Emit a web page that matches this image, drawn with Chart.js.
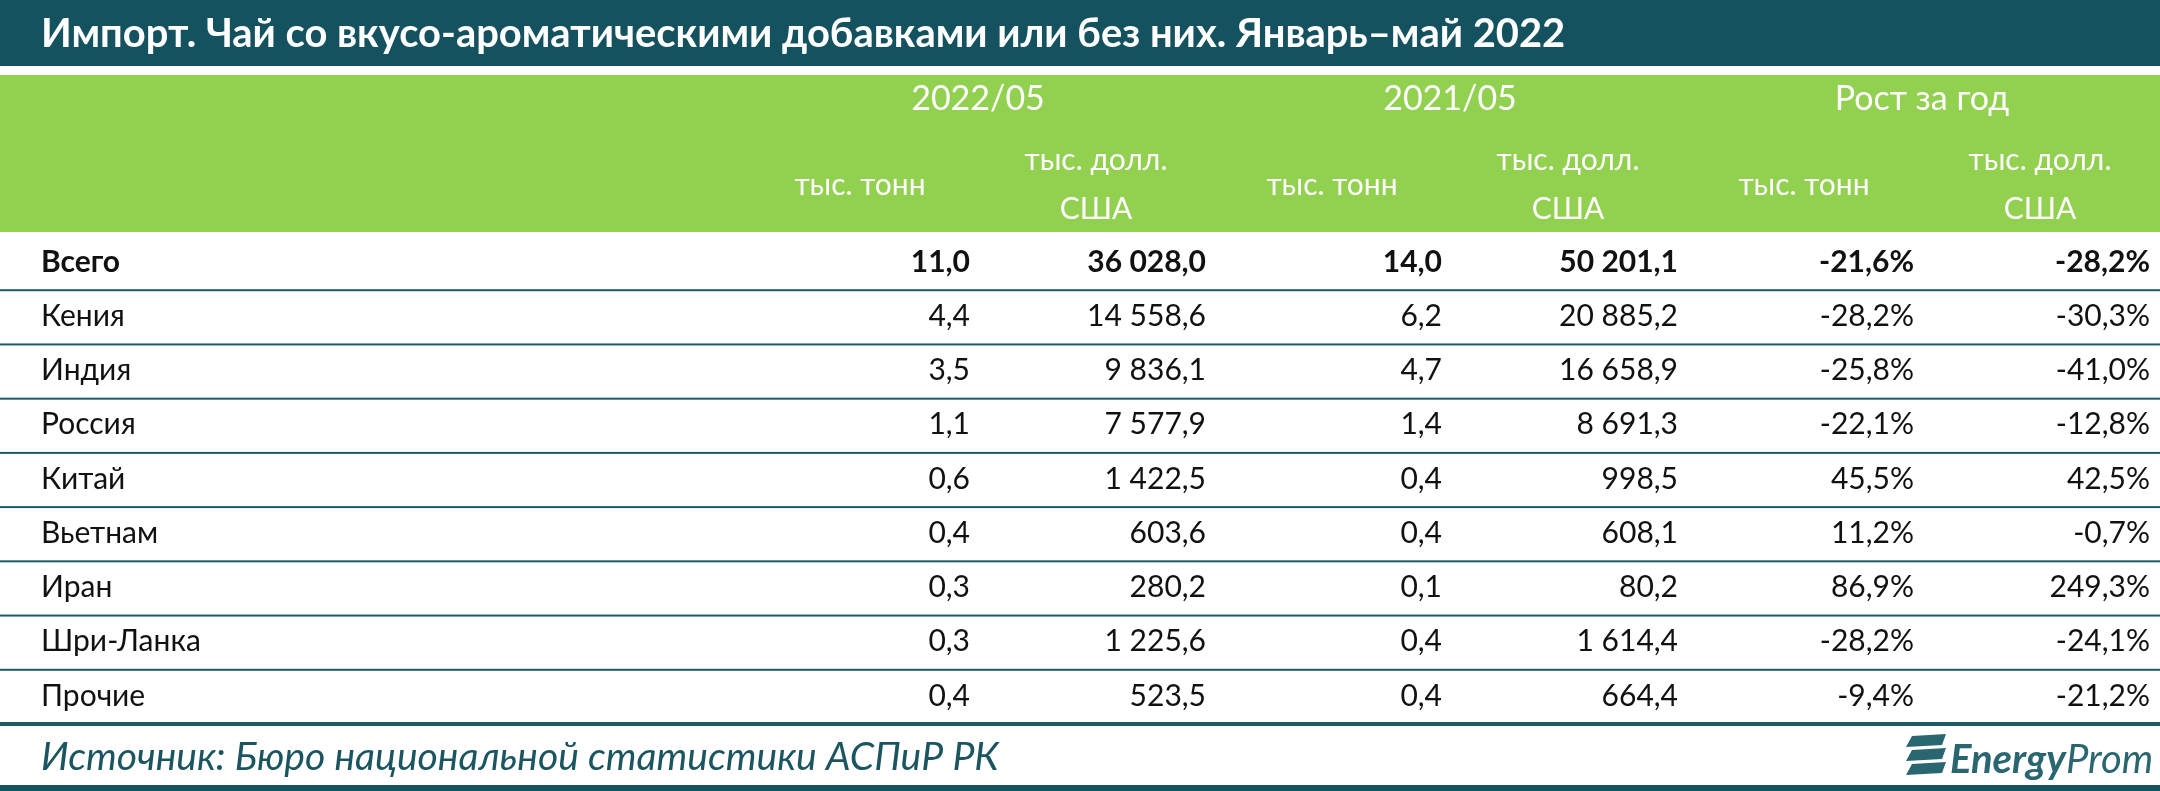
<!DOCTYPE html>
<html><head><meta charset="utf-8">
<script src="https://cdn.jsdelivr.net/npm/chart.js@4"></script>
<style>html,body{margin:0;padding:0;background:#fff;}canvas{display:block;}</style>
</head><body>
<canvas id="c" width="2160" height="791"></canvas>
<script>
const title = "Импорт. Чай со вкусо-ароматическими добавками или без них. Январь–май 2022";
const source = "Источник: Бюро национальной статистики АСПиР РК";
const countries = ["Всего","Кения","Индия","Россия","Китай","Вьетнам","Иран","Шри-Ланка","Прочие"];
const columns = ["t2022","usd2022","t2021","usd2021","gT","gUsd"];
const groupHeaders = ["2022/05","2021/05","Рост за год"];
const unitT = "тыс. тонн";
const unitUsd = ["тыс. долл.","США"];
const tons2022 = ["11,0","4,4","3,5","1,1","0,6","0,4","0,3","0,3","0,4"];
const usd2022 = ["36 028,0","14 558,6","9 836,1","7 577,9","1 422,5","603,6","280,2","1 225,6","523,5"];
const tons2021 = ["14,0","6,2","4,7","1,4","0,4","0,4","0,1","0,4","0,4"];
const usd2021 = ["50 201,1","20 885,2","16 658,9","8 691,3","998,5","608,1","80,2","1 614,4","664,4"];
const growthT = ["-21,6%","-28,2%","-25,8%","-22,1%","45,5%","11,2%","86,9%","-28,2%","-9,4%"];
const growthUsd = ["-28,2%","-30,3%","-41,0%","-12,8%","42,5%","-0,7%","249,3%","-24,1%","-21,2%"];

const colValues = [tons2022, usd2022, tons2021, usd2021, growthT, growthUsd];
const DARK = "#15525f", GREEN = "#92d050", TEAL = "#1e5a66";
const FONT = "Lato";

const datasets = colValues.map((vals, ci) => ({
  label: columns[ci],
  data: countries.map((c, ri) => ({x: columns[ci], y: c, v: vals[ri]})),
  pointRadius: 0, pointHoverRadius: 0, showLine: false
}));

function fitFont(ctx, text, style, target, base) {
  ctx.font = style + " " + base + "px " + FONT;
  const w = ctx.measureText(text).width;
  return Math.max(10, base * target / w);
}

const tablePlugin = {
  id: "table",
  beforeDraw(chart) {
    const ctx = chart.ctx;
    ctx.save();
    ctx.fillStyle = "#fff"; ctx.fillRect(0, 0, chart.width, chart.height);
    ctx.fillStyle = DARK; ctx.fillRect(0, 0, chart.width, 66);
    ctx.fillStyle = GREEN; ctx.fillRect(0, 75, chart.width, 157);
    ctx.fillStyle = DARK; ctx.fillRect(0, 785, chart.width, 6);
    ctx.restore();
  },
  afterDatasetsDraw(chart) {
    const ctx = chart.ctx;
    const xs = chart.scales.x, ys = chart.scales.y;
    ctx.save();
    let fs = fitFont(ctx, title, "bold", 1525, 32);
    ctx.font = "bold " + fs + "px " + FONT;
    ctx.fillStyle = "#fff"; ctx.textBaseline = "middle"; ctx.textAlign = "left";
    ctx.fillText(title, 41, 34);
    ctx.font = "34px " + FONT; ctx.textAlign = "center";
    groupHeaders.forEach((g, gi) => {
      const cx = (xs.getPixelForValue(gi*2) + xs.getPixelForValue(gi*2+1)) / 2;
      ctx.fillText(g, cx, 99);
    });
    ctx.font = "30px " + FONT;
    columns.forEach((c, ci) => {
      const cx = xs.getPixelForValue(ci);
      if (ci % 2 === 0) ctx.fillText(unitT, cx, 185);
      else { ctx.fillText(unitUsd[0], cx, 160); ctx.fillText(unitUsd[1], cx, 209); }
    });
    const step = ys.getPixelForValue(1) - ys.getPixelForValue(0);
    ctx.fillStyle = TEAL;
    countries.forEach((c, ri) => {
      const yb = ys.getPixelForValue(ri) + step / 2;
      if (ri === countries.length - 1) ctx.fillRect(0, yb - 1, chart.width, 4);
      else ctx.fillRect(0, yb, chart.width, 2);
    });
    ctx.textAlign = "left"; ctx.fillStyle = "#111";
    countries.forEach((c, ri) => {
      ctx.font = (ri === 0 ? "bold " : "") + "30px " + FONT;
      ctx.fillText(c, 41, ys.getPixelForValue(ri));
    });
    ctx.textAlign = "right";
    chart.data.datasets.forEach((ds, di) => {
      const meta = chart.getDatasetMeta(di);
      meta.data.forEach((pt, ri) => {
        ctx.font = (ri === 0 ? "bold " : "") + "30px " + FONT;
        ctx.fillText(ds.data[ri].v, pt.x + 110, pt.y);
      });
    });
    fs = fitFont(ctx, source, "italic", 958, 28);
    ctx.font = "italic " + fs + "px " + FONT;
    ctx.textAlign = "left"; ctx.fillStyle = "#1b5560";
    ctx.fillText(source, 41, 757);
    ctx.fillStyle = "#2a6670";
    for (let i = 0; i < 3; i++) {
      const y0 = 736 + i * 14;
      ctx.beginPath();
      ctx.moveTo(1912, y0); ctx.lineTo(1946, y0 - 2); ctx.lineTo(1942, y0 + 9);
      ctx.lineTo(1906, y0 + 11); ctx.closePath(); ctx.fill();
    }
    ctx.font = "italic bold 40px " + FONT; ctx.textAlign = "left";
    ctx.fillText("Energy", 1950, 760);
    const ew = ctx.measureText("Energy").width;
    ctx.font = "italic 40px " + FONT;
    ctx.fillText("Prom", 1950 + ew, 760);
    ctx.restore();
  }
};

new Chart(document.getElementById("c"), {
  type: "scatter",
  data: { datasets },
  options: {
    responsive: false, animation: false, devicePixelRatio: 1,
    layout: { padding: { left: 742, right: 2, top: 235, bottom: 68 } },
    plugins: { legend: { display: false }, tooltip: { enabled: false } },
    scales: {
      x: { type: "category", labels: columns, offset: true, display: false },
      y: { type: "category", labels: countries, offset: true, display: false }
    }
  },
  plugins: [tablePlugin]
});
</script>
</body></html>
